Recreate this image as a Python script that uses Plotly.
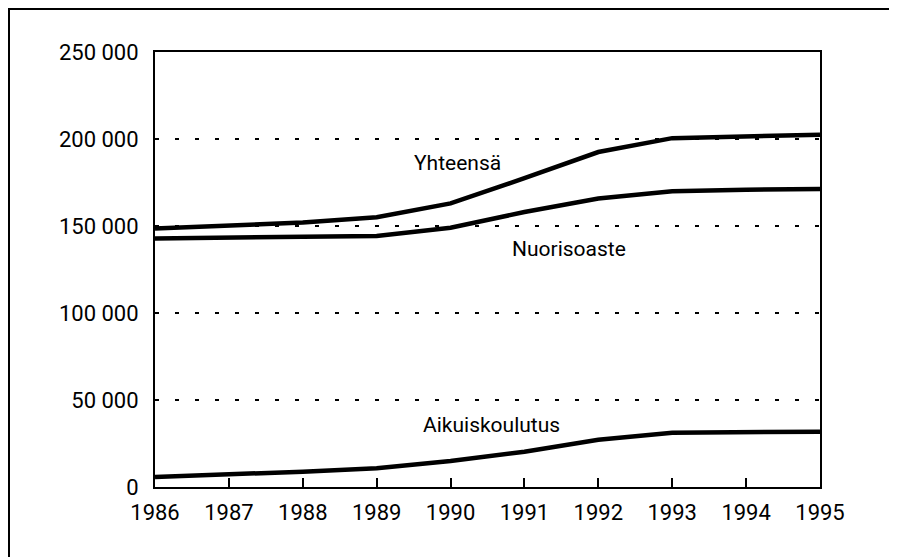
import plotly.graph_objects as go

years = [1986, 1987, 1988, 1989, 1990, 1991, 1992, 1993, 1994, 1995]
yhteensa = [148500, 150000, 152000, 155000, 163000, 177500, 192500, 200500, 201500, 202500]
nuorisoaste = [142800, 143200, 143700, 144300, 149000, 158000, 165800, 170000, 170800, 171300]
aikuiskoulutus = [5800, 7200, 8800, 10800, 15000, 20300, 27200, 31200, 31500, 31800]

y_ticks = [0, 50000, 100000, 150000, 200000, 250000]
y_tick_text = ["0", "50 000", "100 000", "150 000", "200 000", "250 000"]

FONT = "Roboto, Liberation Sans, sans-serif"

fig = go.Figure()
for ys in (yhteensa, nuorisoaste, aikuiskoulutus):
    fig.add_trace(go.Scatter(x=years, y=ys, mode="lines",
                             line=dict(color="black", width=4.5),
                             showlegend=False, hoverinfo="skip"))

labels = [("Yhteensä", 1990.1, 186000), ("Nuorisoaste", 1991.6, 136500), ("Aikuiskoulutus", 1990.55, 35500)]
for txt, lx, ly in labels:
    fig.add_annotation(x=lx, y=ly, text=txt, showarrow=False,
                       font=dict(family=FONT, size=21, color="black"),
                       xanchor="center", yanchor="middle")

# page has an 8px body offset; figure coords = page coords - 8
OFF = 8
FW, FH = 897 - OFF, 557 - OFF
L, T = 155 - OFF, 52 - OFF
W, H = 665, 435
px = lambda v: (v - OFF - L) / W
py = lambda v: (T + H - (v - OFF)) / H
fig.add_shape(type="line", xref="paper", yref="paper", x0=px(6), x1=px(897), y0=py(9), y1=py(9),
              line=dict(color="black", width=2))
fig.add_shape(type="line", xref="paper", yref="paper", x0=px(9), x1=px(9), y0=py(9), y1=py(557),
              line=dict(color="black", width=2))

tf = dict(family=FONT, size=22, color="black")
fig.update_layout(
    width=FW, height=FH,
    margin=dict(l=L, r=FW - L - W, t=T, b=FH - T - H, autoexpand=False),
    paper_bgcolor="white", plot_bgcolor="white",
    font=tf,
    xaxis=dict(range=[1986, 1995], tickvals=years, ticktext=[str(y) for y in years],
               showgrid=False, zeroline=False, showline=True, linecolor="black", linewidth=2,
               mirror=True, ticks="inside", ticklen=9, tickwidth=1.5, tickcolor="black",
               tickfont=tf, ticklabelstandoff=5, automargin=False),
    yaxis=dict(range=[0, 250000], tickvals=y_ticks, ticktext=y_tick_text,
               showgrid=True, gridcolor="black", gridwidth=1.5, griddash="4px,16px",
               zeroline=False, showline=True, linecolor="black", linewidth=2,
               mirror=True, ticks="", tickfont=tf, ticklabelstandoff=10, automargin=False),
)

fig.write_html("out.html")
